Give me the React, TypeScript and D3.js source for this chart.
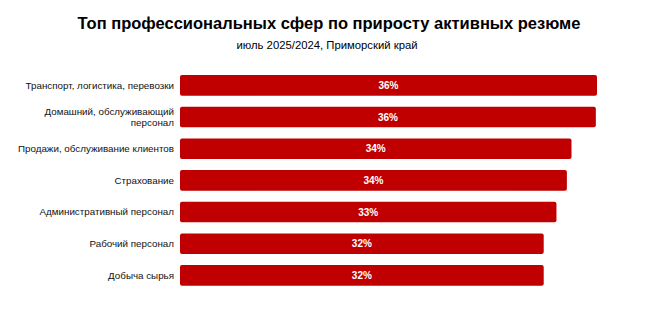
import React from 'react';
import * as d3 from 'd3';

const width = 656;
const height = 329;
const margin = { top: 69.5, right: 59, bottom: 37.8, left: 180 };

// категории в порядке сверху вниз
const categories = [
  'Транспорт, логистика, перевозки',
  'Домашний, обслуживающий персонал',
  'Продажи, обслуживание клиентов',
  'Страхование',
  'Административный персонал',
  'Рабочий персонал',
  'Добыча сырья',
];
// подписи в две строки там, где так в оригинале
const categoryLines = [
  ['Транспорт, логистика, перевозки'],
  ['Домашний, обслуживающий', 'персонал'],
  ['Продажи, обслуживание клиентов'],
  ['Страхование'],
  ['Административный персонал'],
  ['Рабочий персонал'],
  ['Добыча сырья'],
];
const shares = [36.0, 35.9, 33.8, 33.4, 32.5, 31.4, 31.4];
const shareLabels = ['36%', '36%', '34%', '34%', '33%', '32%', '32%'];

const title = 'Топ профессиональных сфер по приросту активных резюме';
const subtitle = 'июль 2025/2024, Приморский край';

const font = "'Liberation Sans', Arial, sans-serif";
const red = '#c00000';

export default function App() {
  const x = d3.scaleLinear().domain([0, 36.0]).range([margin.left, width - margin.right]);
  const y = d3
    .scaleBand<string>()
    .domain(categories)
    .range([margin.top, height - margin.bottom])
    .paddingInner(0.35)
    .paddingOuter(0.175);

  return (
    <svg
      width={width}
      height={height}
      style={{ position: 'absolute', left: 0, top: 0, background: '#fff' }}
      fontFamily={font}
    >
      <text x={329} y={29} textAnchor="middle" fontSize={16.5} fontWeight="bold" fill="#000">
        {title}
      </text>
      <text x={327} y={48.5} textAnchor="middle" fontSize={11.3} fill="#000">
        {subtitle}
      </text>

      {categories.map((c, i) => {
        const y0 = y(c)!;
        const bw = y.bandwidth();
        const lines = categoryLines[i];
        const lh = 10.5;
        const cy = y0 + bw / 2;
        return (
          <g key={c}>
            <rect x={x(0)} y={y0} width={x(shares[i]) - x(0)} height={bw} rx={2} fill={red} />
            <text
              x={(x(0) + x(shares[i])) / 2}
              y={cy}
              dy="0.35em"
              textAnchor="middle"
              fontSize={10}
              fontWeight="bold"
              fill="#fff"
            >
              {shareLabels[i]}
            </text>
            <text x={x(0) - 6} y={cy - ((lines.length - 1) * lh) / 2} textAnchor="end" fontSize={9.8} fill="#111">
              {lines.map((l, j) => (
                <tspan key={j} x={x(0) - 6} dy={j === 0 ? '0.35em' : lh}>
                  {l}
                </tspan>
              ))}
            </text>
          </g>
        );
      })}
    </svg>
  );
}
